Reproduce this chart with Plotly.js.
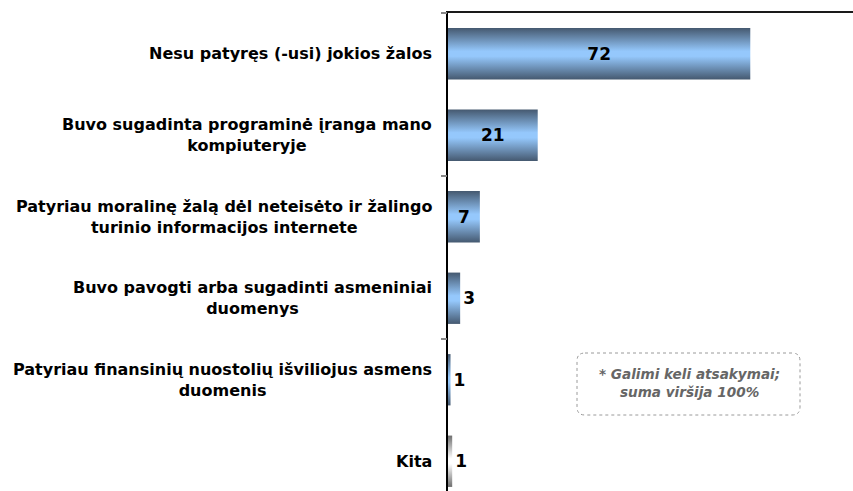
<!DOCTYPE html>
<html>
<head>
<meta charset="utf-8">
<script src="https://cdn.plot.ly/plotly-3.0.1.min.js"></script>
<style>html,body{margin:0;padding:0;background:#fff;}#chart{width:853px;height:491px;}</style>
</head>
<body>
<div id="chart"></div>
<script>
// Data
var categories = [
  "Nesu patyręs (-usi) jokios žalos",
  "Buvo sugadinta programinė įranga mano<br>kompiuteryje",
  "Patyriau moralinę žalą dėl neteisėto ir žalingo<br>turinio informacijos internete",
  "Buvo pavogti arba sugadinti asmeniniai<br>duomenys",
  "Patyriau finansinių nuostolių išviliojus asmens<br>duomenis",
  "Kita"
];
var values = [72.1, 21.4, 7.6, 2.9, 0.6, 1.0];
var valueLabels = ["72", "21", "7", "3", "1", "1"];
var noteText = "<i>* Galimi keli atsakymai;<br>suma viršija 100%</i>";

var FONT = "DejaVu Sans, Verdana, sans-serif";
var positions = ["inside", "inside", "inside", "outside", "outside", "outside"];

var trace = {
  type: "bar",
  orientation: "h",
  y: categories,
  x: values,
  text: valueLabels,
  textposition: positions,
  insidetextanchor: "middle",
  textfont: {family: FONT, size: 17, color: "#000", weight: "bold"},
  cliponaxis: false,
  width: 0.63,
  marker: {color: ["#6f93bd","#6f93bd","#6f93bd","#6f93bd","#6f93bd","#b0b0b0"], line: {width: 0}},
  hoverinfo: "none",
  showlegend: false
};
var tickTrace = {
  type: "scatter", x: [null], y: [null], yaxis: "y2", xaxis: "x",
  showlegend: false, hoverinfo: "none"
};

var annotations = categories.map(function (c) {
  return {
    xref: "paper", yref: "y", x: 0, y: c,
    xanchor: "right", yanchor: "middle", xshift: -14,
    text: c, align: "center", showarrow: false,
    font: {family: FONT, size: 16, color: "#000", weight: "bold"}
  };
});
annotations.push({
  xref: "paper", yref: "paper", x: (689 - 448) / 405, y: 1 - (383 - 13) / 478,
  xanchor: "center", yanchor: "middle", text: noteText, align: "center",
  showarrow: false, font: {family: FONT, size: 13.6, color: "#666", weight: "bold"}
});

function px2x(p) { return (p - 448) / 405; }
function px2y(p) { return 1 - (p - 13) / 478; }
var bx0 = 577, bx1 = 800, by0 = 353, by1 = 415, r = 8;
var notePath = "M" + px2x(bx0 + r) + "," + px2y(by0) +
  " L" + px2x(bx1 - r) + "," + px2y(by0) +
  " Q" + px2x(bx1) + "," + px2y(by0) + " " + px2x(bx1) + "," + px2y(by0 + r) +
  " L" + px2x(bx1) + "," + px2y(by1 - r) +
  " Q" + px2x(bx1) + "," + px2y(by1) + " " + px2x(bx1 - r) + "," + px2y(by1) +
  " L" + px2x(bx0 + r) + "," + px2y(by1) +
  " Q" + px2x(bx0) + "," + px2y(by1) + " " + px2x(bx0) + "," + px2y(by1 - r) +
  " L" + px2x(bx0) + "," + px2y(by0 + r) +
  " Q" + px2x(bx0) + "," + px2y(by0) + " " + px2x(bx0 + r) + "," + px2y(by0) + " Z";

var layout = {
  width: 853, height: 491,
  margin: {l: 448, r: 0, t: 13, b: 0, pad: 0},
  paper_bgcolor: "#fff", plot_bgcolor: "#fff",
  bargap: 0.37,
  xaxis: {
    range: [0, 96.6], side: "top", showline: true, linecolor: "#1a1a1a", linewidth: 2,
    showgrid: false, zeroline: false, showticklabels: false, ticks: "", fixedrange: true
  },
  yaxis: {
    type: "category", range: [5.365, -0.5], showline: true, linecolor: "#000", linewidth: 2,
    showgrid: false, zeroline: false, showticklabels: false, ticks: "", fixedrange: true
  },
  yaxis2: {
    overlaying: "y", type: "linear", range: [5.365, -0.5], side: "left",
    tickvals: [-0.5, 1.5, 3.5, 5.5], ticks: "outside", ticklen: 6, tickwidth: 1.5,
    tickcolor: "#888", showticklabels: false, showgrid: false, zeroline: false, showline: false,
    fixedrange: true
  },
  shapes: [{
    type: "path", xref: "paper", yref: "paper", path: notePath,
    line: {color: "#9a9a9a", width: 1, dash: "dot"}, fillcolor: "rgba(0,0,0,0)"
  }],
  annotations: annotations
};

Plotly.newPlot("chart", [trace, tickTrace], layout, {displayModeBar: false, staticPlot: true}).then(function (gd) {
  var NS = "http://www.w3.org/2000/svg";
  var svg = gd.querySelector(".main-svg");
  var defs = svg.querySelector("defs") || svg.insertBefore(document.createElementNS(NS, "defs"), svg.firstChild);
  function grad(id, edge, mid) {
    var g = document.createElementNS(NS, "linearGradient");
    g.setAttribute("id", id);
    g.setAttribute("x1", "0"); g.setAttribute("y1", "0");
    g.setAttribute("x2", "0"); g.setAttribute("y2", "1");
    [[0, edge], [0.45, mid], [0.55, mid], [1, edge]].forEach(function (s) {
      var st = document.createElementNS(NS, "stop");
      st.setAttribute("offset", s[0]);
      st.setAttribute("stop-color", s[1]);
      g.appendChild(st);
    });
    defs.appendChild(g);
  }
  grad("gBlue", "#455970", "#95c8fc");
  grad("gGray", "#6e6e6e", "#ffffff");
  var paths = gd.querySelectorAll(".barlayer .point path");
  paths.forEach(function (p, i) {
    p.style.fill = (i === 5) ? "url(#gGray)" : "url(#gBlue)";
  });
});
</script>
</body>
</html>
